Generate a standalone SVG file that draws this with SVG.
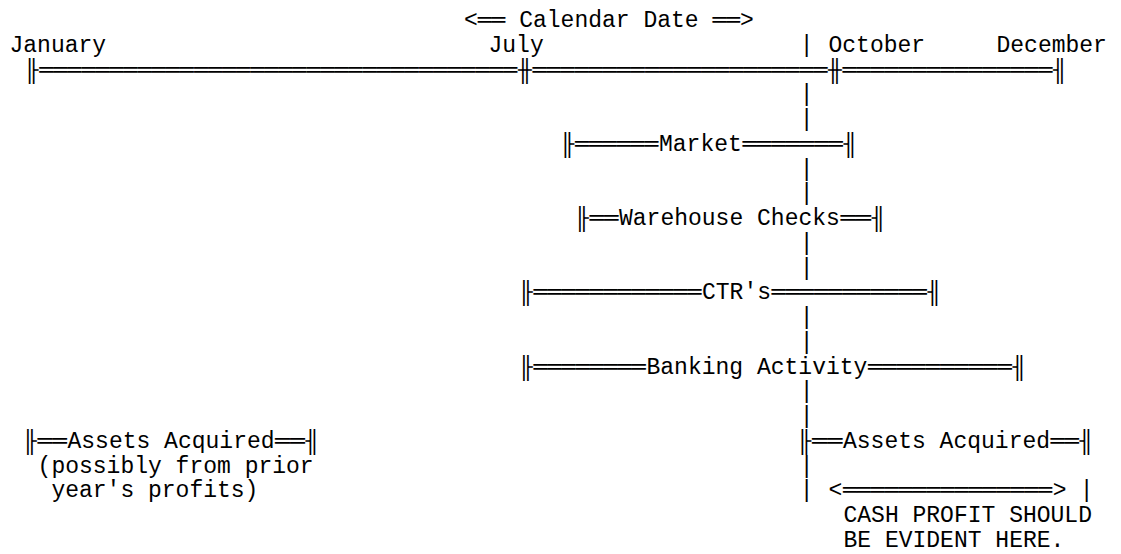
<svg xmlns="http://www.w3.org/2000/svg" width="1121" height="554" viewBox="0 0 1121 554">
<style>
text{font-family:"Liberation Mono","DejaVu Sans Mono",monospace;font-size:23px;fill:#000}
</style>
<rect width="1121" height="554" fill="#fff"/>
<g id="title">
<text x="464" y="27">&lt;══ Calendar Date ══&gt;</text>
</g>
<g id="months">
<text x="9.5" y="51.8">January</text>
<text x="488.5" y="51.8">July</text>
<text x="828.5" y="51.8">October</text>
<text x="996.5" y="51.8">December</text>
</g>
<g id="timeline">
<text x="24.8" y="76.5">╟</text>
<text x="39.2" y="76.5" textLength="478.2" lengthAdjust="spacingAndGlyphs">══════════════════════════════════</text>
<text x="518.1" y="76.5">╫</text>
<text x="532.5" y="76.5" textLength="295" lengthAdjust="spacingAndGlyphs">═════════════════════</text>
<text x="828.1" y="76.5">╫</text>
<text x="842.5" y="76.5" textLength="210" lengthAdjust="spacingAndGlyphs">═══════════════</text>
<text x="1053.1" y="76.5">╢</text>
</g>
<g id="market">
<text x="560.6" y="150.8">╟</text>
<text x="575" y="150.8" textLength="83.4" lengthAdjust="spacingAndGlyphs">══════</text>
<text x="659" y="150.8">Market</text>
<text x="742.4" y="150.8" textLength="100.6" lengthAdjust="spacingAndGlyphs">═══════</text>
<text x="843.6" y="150.8">╢</text>
</g>
<g id="warehouse-checks">
<text x="575.1" y="225.1">╟</text>
<text x="589.5" y="225.1" textLength="29" lengthAdjust="spacingAndGlyphs">══</text>
<text x="619" y="225.1">Warehouse Checks</text>
<text x="840.4" y="225.1" textLength="30.7" lengthAdjust="spacingAndGlyphs">══</text>
<text x="871.7" y="225.1">╢</text>
</g>
<g id="ctrs">
<text x="519.1" y="299.4">╟</text>
<text x="533.5" y="299.4" textLength="168" lengthAdjust="spacingAndGlyphs">════════════</text>
<text x="702" y="299.4">CTR's</text>
<text x="771.6" y="299.4" textLength="155.4" lengthAdjust="spacingAndGlyphs">═══════════</text>
<text x="927.6" y="299.4">╢</text>
</g>
<g id="banking-activity">
<text x="519.1" y="373.6">╟</text>
<text x="533.5" y="373.6" textLength="112.4" lengthAdjust="spacingAndGlyphs">════════</text>
<text x="646.5" y="373.6">Banking Activity</text>
<text x="867.9" y="373.6" textLength="144" lengthAdjust="spacingAndGlyphs">══════════</text>
<text x="1012.6" y="373.6">╢</text>
</g>
<g id="assets-prior">
<text x="23.1" y="447.9">╟</text>
<text x="37.5" y="447.9" textLength="29.4" lengthAdjust="spacingAndGlyphs">══</text>
<text x="67.5" y="447.9">Assets Acquired</text>
<text x="275.1" y="447.9" textLength="29.9" lengthAdjust="spacingAndGlyphs">══</text>
<text x="305.6" y="447.9">╢</text>
<text x="37.6" y="472.7">(possibly from prior</text>
<text x="51.4" y="497.4">year's profits)</text>
</g>
<g id="assets-current">
<text x="797.5" y="447.9">╟</text>
<text x="811.9" y="447.9" textLength="30.5" lengthAdjust="spacingAndGlyphs">══</text>
<text x="843" y="447.9">Assets Acquired</text>
<text x="1050.6" y="447.9" textLength="28.4" lengthAdjust="spacingAndGlyphs">══</text>
<text x="1079.6" y="447.9">╢</text>
</g>
<g id="cash-profit">
<text x="828.5" y="497.4">&lt;</text>
<text x="842.9" y="497.4" textLength="209.2" lengthAdjust="spacingAndGlyphs">═══════════════</text>
<text x="1052.7" y="497.4">&gt;</text>
<text x="1079.8" y="497.4">|</text>
<text x="843.5" y="522.2">CASH PROFIT SHOULD</text>
<text x="843.5" y="546.9">BE EVIDENT HERE.</text>
</g>
<g id="connectors">
<text x="799.8" y="51.8">|</text>
<text x="799.8" y="101.3">|</text>
<text x="799.8" y="126">|</text>
<text x="799.8" y="175.6">|</text>
<text x="799.8" y="200.3">|</text>
<text x="799.8" y="249.8">|</text>
<text x="799.8" y="274.6">|</text>
<text x="799.8" y="324.1">|</text>
<text x="799.8" y="348.9">|</text>
<text x="799.8" y="398.4">|</text>
<text x="799.8" y="423.2">|</text>
<text x="799.8" y="472.7">|</text>
<text x="799.8" y="497.4">|</text>
</g>
</svg>
